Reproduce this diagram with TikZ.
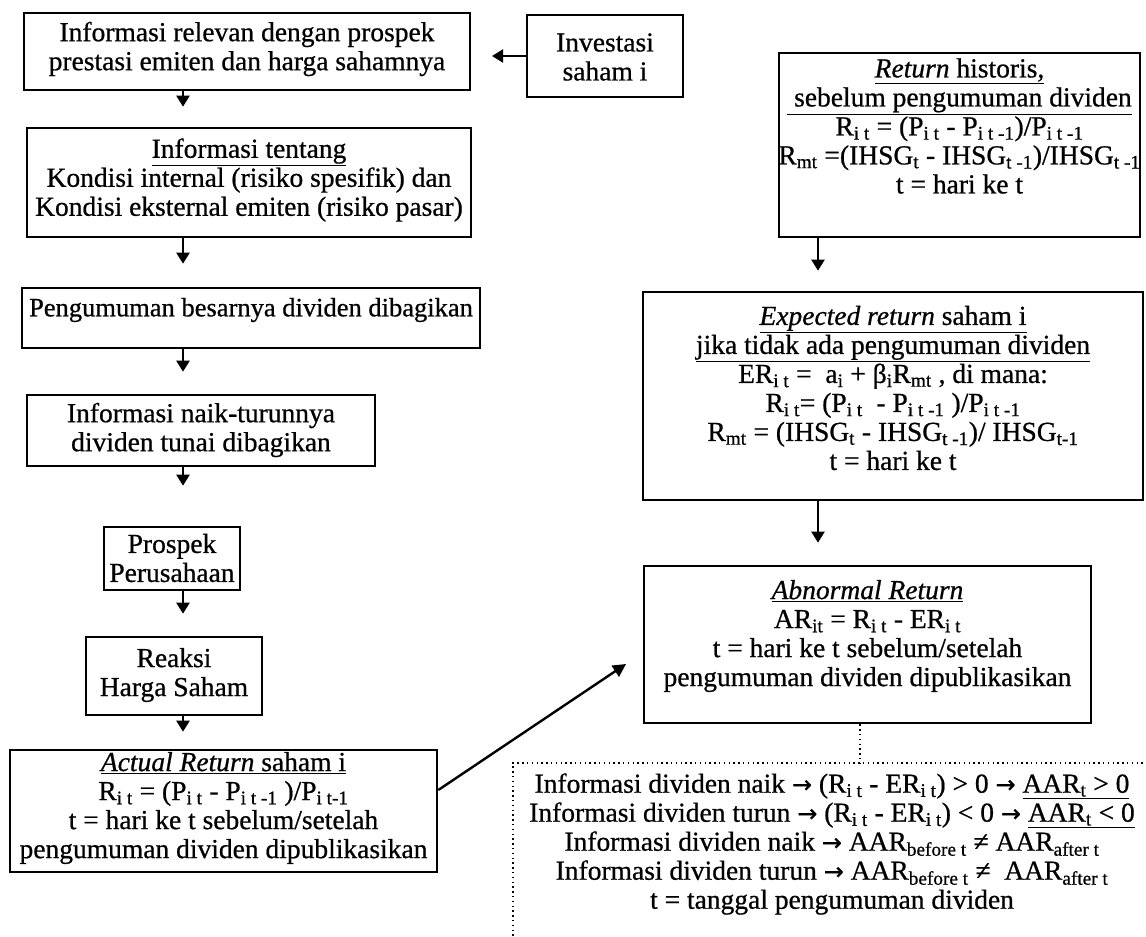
\documentclass[tikz,border=0pt]{standalone}
\usepackage{fontspec}
\setmainfont{Liberation Serif}[FakeBold=0.7]
\newfontfamily\arrowfont{DejaVu Sans}[FakeBold=0.5]
\usetikzlibrary{arrows.meta}
\newcommand\sbs[1]{\textsubscript{#1}}
\newcommand\ra{{\arrowfont\fontsize{24}{29}\selectfont →}}
\begin{document}
\begin{tikzpicture}[x=1pt,y=-1pt,
  every node/.style={font=\fontsize{27.5}{29}\selectfont, inner sep=0pt},
  bx/.style={draw, line width=2.6pt, rectangle},
  tx/.style={align=center},
  arr/.style={line width=2.2pt, -{Triangle[width=13pt,length=11pt]}},
  dotl/.style={line width=1.4pt, dash pattern=on 1.4pt off 3.4pt},
]
\useasboundingbox (0,0) rectangle (1146,937);
\clip (0,0) rectangle (1146,937);
\coordinate (ax) at (183,0);
\coordinate (rx) at (818,0);
\coordinate (dx) at (860,0);
\coordinate (invtip) at (492,53);
\coordinate (abtip) at (626,664);

% left column boxes
\node[bx, minimum width=446pt, minimum height=77pt] (b1) at (247,51.5) {};
\node[tx] (b1t) at (247,49) {Informasi relevan dengan prospek\\prestasi emiten dan harga sahamnya};

\node[bx, minimum width=156pt, minimum height=82pt] (inv) at (605,56) {};
\node[tx] (invt) at (605,57) {Investasi\\saham i};

\node[bx, minimum width=444pt, minimum height=109pt] (b2) at (249,182.5) {};
\node[tx] (b2t) at (249,180) {\underline{Informasi tentang}\\Kondisi internal (risiko spesifik) dan\\Kondisi eksternal emiten (risiko pasar)};

\node[bx, minimum width=458pt, minimum height=60pt] (b3) at (251,318) {};
\node[tx, font=\fontsize{26.5}{29}\selectfont] (b3t) at (251,310) {Pengumuman besarnya dividen dibagikan};

\node[bx, minimum width=348pt, minimum height=71pt] (b4) at (201,430.5) {};
\node[tx] (b4t) at (201,430) {Informasi naik-turunnya\\dividen tunai dibagikan};

\node[bx, minimum width=136pt, minimum height=63pt] (pros) at (172,558.5) {};
\node[tx] (prost) at (172,558) {Prospek\\Perusahaan};

\node[bx, minimum width=176pt, minimum height=78pt] (reak) at (174,676) {};
\node[tx] (reakt) at (174,675) {Reaksi\\Harga Saham};

\node[bx, minimum width=427pt, minimum height=122pt] (act) at (223.5,811) {};
\node[tx] (actt) at (223.5,808) {\underline{\textit{Actual Return} saham i}\\R\sbs{i t} = (P\sbs{i t} - P\sbs{i t -1} )/P\sbs{i t-1}\\t = hari ke t sebelum/setelah\\pengumuman dividen dipublikasikan};

% right column boxes
\node[bx, minimum width=361pt, minimum height=184pt] (rh) at (959.5,145) {};
\node[tx] (rht) at (959.5,126) {\underline{\textit{Return} historis,}\\\underline{\ sebelum pengumuman dividen}\\R\sbs{i t} = (P\sbs{i t} - P\sbs{i t -1})/P\sbs{i t -1}\\R\sbs{mt} =(IHSG\sbs{t} - IHSG\sbs{t -1})/IHSG\sbs{t -1}\\t = hari ke t};

\node[bx, minimum width=500pt, minimum height=208pt] (ex) at (893,396) {};
\node[tx] (ext) at (893,388) {\underline{\textit{Expected return} saham i}\\\underline{jika tidak ada pengumuman dividen}\\ER\sbs{i t} = \ a\sbs{i} + β\sbs{i}R\sbs{mt} , di mana:\\R\sbs{i t}= (P\sbs{i t} \ - P\sbs{i t -1} )/P\sbs{i t -1}\\R\sbs{mt} = (IHSG\sbs{t} - IHSG\sbs{t -1})/ IHSG\sbs{t-1}\\t = hari ke t};

\node[bx, minimum width=447pt, minimum height=157pt] (ab) at (867.5,644.5) {};
\node[tx] (abt) at (867.5,636) {\underline{\textit{Abnormal Return}}\\AR\sbs{it} = R\sbs{i t} - ER\sbs{i t}\\t = hari ke t sebelum/setelah\\pengumuman dividen dipublikasikan};

\node[minimum width=647pt, minimum height=187pt] (dot) at (836.5,856.5) {};
\node[tx] (dott) at (832,844) {Informasi dividen naik \ra{} (R\sbs{i t} - ER\sbs{i t}) > 0 \ra{} \underline{AAR\sbs{t} > 0}\\Informasi dividen turun \ra{} (R\sbs{i t} - ER\sbs{i t}) < 0 \ra{} \underline{AAR\sbs{t} < 0}\\Informasi dividen naik \ra{} AAR\sbs{before t} ≠ AAR\sbs{after t}\\Informasi dividen turun \ra{} AAR\sbs{before t} ≠ \ AAR\sbs{after t}\\t = tanggal pengumuman dividen};
\draw[dotl] (dot.south west) -- (dot.north west) -- (dot.north east);

% connectors
\draw[arr] (inv.west) -- (inv.west -| invtip);
\draw[arr, shorten >=20pt] (b1.south -| ax) -- (b2.north -| ax);
\draw[arr, shorten >=23pt] (b2.south -| ax) -- (b3.north -| ax);
\draw[arr, shorten >=22pt] (b3.south -| ax) -- (b4.north -| ax);
\draw[arr, shorten >=40pt] (b4.south -| ax) -- (pros.north -| ax);
\draw[arr, shorten >=22pt] (pros.south -| ax) -- (reak.north -| ax);
\draw[arr, shorten >=17pt] (reak.south -| ax) -- (act.north -| ax);
\draw[arr, shorten >=20pt] (rh.south -| rx) -- (ex.north -| rx);
\draw[arr, shorten >=22pt] (ex.south -| rx) -- (ab.north -| rx);
\draw[line width=2.4pt, -{Triangle[width=13pt,length=13pt]}] ([yshift=21pt]act.east) -- (abtip);
\draw[dotl] (ab.south -| dx) -- (dot.north -| dx);
\end{tikzpicture}
\end{document}
